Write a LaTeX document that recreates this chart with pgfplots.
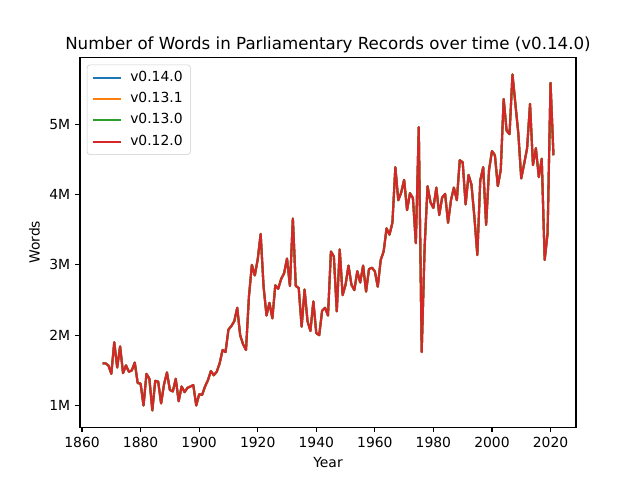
\documentclass[border=0pt]{standalone}
\usepackage{fontspec}
\setmainfont{DejaVu Sans}
\usepackage{pgfplots}
\usepackage{pgfplotstable}
\pgfplotsset{compat=1.18}

\definecolor{tabblue}{HTML}{1F77B4}
\definecolor{taborange}{HTML}{FF7F0E}
\definecolor{tabgreen}{HTML}{2CA02C}
\definecolor{tabred}{HTML}{D62728}

% words per year, in millions
\pgfplotstableread{
year words
1867 1.60
1868 1.60
1869 1.57
1870 1.45
1871 1.90
1872 1.54
1873 1.84
1874 1.46
1875 1.57
1876 1.48
1877 1.50
1878 1.61
1879 1.32
1880 1.31
1881 1.00
1882 1.45
1883 1.38
1884 0.93
1885 1.35
1886 1.34
1887 1.03
1888 1.30
1889 1.47
1890 1.22
1891 1.20
1892 1.38
1893 1.06
1894 1.27
1895 1.19
1896 1.25
1897 1.27
1898 1.29
1899 1.00
1900 1.16
1901 1.15
1902 1.27
1903 1.36
1904 1.49
1905 1.43
1906 1.48
1907 1.60
1908 1.79
1909 1.76
1910 2.08
1911 2.13
1912 2.20
1913 2.39
1914 2.00
1915 1.87
1916 1.79
1917 2.55
1918 3.00
1919 2.85
1920 3.08
1921 3.44
1922 2.69
1923 2.28
1924 2.46
1925 2.24
1926 2.71
1927 2.66
1928 2.80
1929 2.88
1930 3.09
1931 2.70
1932 3.66
1933 2.70
1934 2.67
1935 2.12
1936 2.65
1937 2.20
1938 2.06
1939 2.48
1940 2.03
1941 2.00
1942 2.35
1943 2.39
1944 2.28
1945 3.19
1946 3.12
1947 2.34
1948 3.22
1949 2.57
1950 2.72
1951 2.99
1952 2.72
1953 2.64
1954 2.91
1955 2.75
1956 2.99
1957 2.62
1958 2.94
1959 2.96
1960 2.91
1961 2.69
1962 3.07
1963 3.19
1964 3.52
1965 3.43
1966 3.60
1967 4.39
1968 3.92
1969 4.03
1970 4.21
1971 3.78
1972 4.02
1973 3.95
1974 3.31
1975 4.96
1976 1.76
1977 3.25
1978 4.12
1979 3.89
1980 3.81
1981 4.10
1982 3.71
1983 3.96
1984 4.01
1985 3.60
1986 3.92
1987 4.10
1988 3.92
1989 4.49
1990 4.46
1991 3.86
1992 4.28
1993 4.14
1994 3.68
1995 3.14
1996 4.20
1997 4.39
1998 3.57
1999 4.35
2000 4.62
2001 4.56
2002 4.12
2003 4.35
2004 5.36
2005 4.91
2006 4.86
2007 5.71
2008 5.29
2009 4.87
2010 4.23
2011 4.44
2012 4.66
2013 5.29
2014 4.42
2015 4.66
2016 4.25
2017 4.51
2018 3.07
2019 3.45
2020 5.59
2021 4.56
}\wordsdata

\begin{document}
\begin{tikzpicture}
% 640x480 px page at 0.72pt per px, axes box 80..576 x 57.6..427.2
\useasboundingbox (-57.6pt,-38.016pt) rectangle (403.2pt,307.584pt);
\begin{axis}[
  at={(0,0)}, anchor=south west,
  scale only axis,
  width=357.12pt, height=266.11pt,
  xmin=1859.3, xmax=2028.7,
  ymin=0.691, ymax=5.949,
  xtick={1860,1880,...,2020},
  ytick={1,2,3,4,5},
  yticklabels={1M,2M,3M,4M,5M},
  /pgf/number format/1000 sep={},
  /pgf/number format/assume math mode=true,
  xtick pos=bottom, ytick pos=left,
  tick align=outside,
  major tick length=3.5pt,
  tick style={line width=0.8pt, black},
  axis line style={line width=0.8pt},
  ticklabel style={font=\fontsize{10}{12}\selectfont},
  xlabel={Year}, ylabel={Words},
  label style={font=\fontsize{10}{12}\selectfont},
  title={Number of Words in Parliamentary Records over time (v0.14.0)},
  title style={font=\fontsize{12}{14}\selectfont, yshift=-6pt},
  legend style={at={(0,1)}, anchor=north west, xshift=5pt, yshift=-5pt,
    draw=white!80!black, rounded corners=2pt, fill=white, fill opacity=0.8,
    text opacity=1, font=\fontsize{10}{12}\selectfont,
    nodes={inner ysep=3pt, text height=7.3pt, text depth=2.1pt},
    row sep=0pt, inner xsep=3.5pt, inner ysep=1.5pt},
  legend cell align=left,
  legend image code/.code={\draw[#1] (0pt,0pt) -- (20pt,0pt); \path (24pt,0pt);},
  every axis plot/.append style={line width=1.5pt, line join=round, mark=none},
]
\addplot[tabblue] table[x=year, y=words] {\wordsdata};
\addplot[taborange] table[x=year, y=words] {\wordsdata};
\addplot[tabgreen] table[x=year, y=words] {\wordsdata};
\addplot[tabred] table[x=year, y=words] {\wordsdata};
\legend{v0.14.0,v0.13.1,v0.13.0,v0.12.0}
\end{axis}
\end{tikzpicture}
\end{document}
